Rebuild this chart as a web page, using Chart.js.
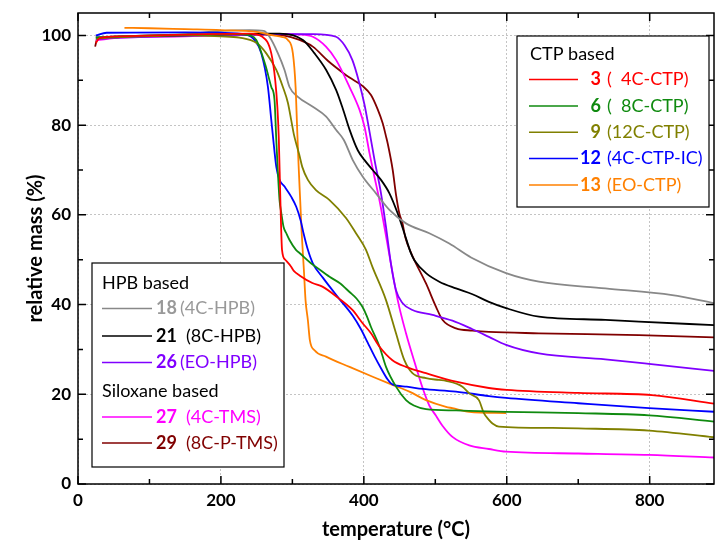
<!DOCTYPE html>
<html>
<head>
<meta charset="utf-8">
<script src="https://cdn.jsdelivr.net/npm/chart.js@4/dist/chart.umd.min.js"></script>
<style>
html,body{margin:0;padding:0;background:#fff;}
#wrap{width:716px;height:542px;}
</style>
</head>
<body>
<div id="wrap"><canvas id="c" width="716" height="542"></canvas></div>
<script>
// ---- data (temperature °C / relative mass %) ----
const t3  = [25,30,60,150,240,258,270.5,276,279,281,283.2,285.5,290,298,302,310,328,342,364,384,398,410,422,440,459,487,529,575,600,700,803,891];
const m3  = [98.3,99.4,99.8,100.2,100.4,99.7,96,90,84,77,63.3,52.2,50,48.5,47.5,46.5,44.8,44,41.5,38.8,35.9,33.6,30.6,27.6,26.1,24.7,22.8,21.4,21,20.3,19.8,17.9];

const t6  = [25,60,150,220,240,249.5,262,270.5,275,277.5,282,284.5,287.7,291.5,296,305,310,326,333,352,366,380,390,398,404,410,422,431,445,459,470,487,529,599,700,799,891];
const m6  = [99.5,99.8,100.2,100.3,100,99,93.5,88.5,85.6,76.7,63.3,60.4,57.3,55.9,54.4,52.2,51.5,49.2,48.4,46.2,44.8,42.8,41.3,39.5,37.5,35,30.6,26.1,21.7,18.7,17.5,16.7,16.4,16.1,15.8,15.3,13.9];

const t9  = [25,60,150,200,226,250,263.5,277.5,286.7,293.7,298.5,302,306,309.5,313.8,321.7,333,352,375,389,403,412,431,445,456.7,468,487,505,515,538,547.5,561,568,575,580,589,664,700,799,891];
const m9  = [99.3,99.6,100,99.8,99.5,98.3,96,92.3,88.5,85,81,78,75.5,73.5,70.7,67.8,65.5,63.3,59.3,55.9,52.2,48.4,41,33.6,27.6,24.7,23.6,23.2,23,21.7,20.2,18.7,15.8,14.3,13.5,12.8,12.5,12.4,11.9,10.4];

const t12 = [25,40,150,200,235,247,256.5,265.8,270.5,272.8,277.5,282,289,298.5,305.4,311.5,315.6,321.7,328.6,342.6,364.5,384.5,396,405.4,414.8,424,433.4,440,460,482,529,575,599,700,799,891];
const m12 = [100,100.6,100.7,100.6,100.2,99,96,88.5,81.1,77.5,70.7,67.8,66.3,64,61.8,58.8,55.9,52.2,49.2,46,41.5,37.5,34.5,31.5,28.5,25.8,23.3,22.2,21.7,21.2,20.6,19.6,19.2,18,16.9,16.1];

const t13 = [65,100,150,200,250,273,285,293.7,300.7,304.5,306.5,308.7,311,313,316,318.4,321.7,324.5,331,347,380,412.4,440,463.7,487,515,524,547.5,599];
const m13 = [101.7,101.6,101.4,101.2,100.8,100,99.7,99,96,88.5,80,71,63,56,48,41,36.5,32,29.8,28.4,26.1,23.9,22.1,20.6,18.7,17.2,16.9,16.1,15.8];

const t18 = [25,60,150,200,240,260,268,279.8,289,296,307.7,328.6,347.3,361.3,372,384.5,398.5,417,435.8,459,491.6,519.6,550,599,645,738,831.5,891];
const m18 = [99.6,99.8,100.3,101,101.2,101,99.7,96,92.3,88.5,86.3,84.1,81.9,78.9,76.7,72.2,68.5,64.8,61.1,58.1,55.9,53.6,50.5,47,45.1,43.6,42.1,40.3];

const t21 = [25,60,150,200,260,282,314.7,331,347.3,361.3,370.5,380,391.5,401,412.4,424,435.8,447.4,456.7,466,470.7,487,505.6,529,552,575,599,645,738,785,891];
const m21 = [99.6,99.8,100,100.2,100.4,100.4,99,96,92.3,87.8,83.7,79,74.4,72.2,70,67.8,64.8,60.3,55.9,51.4,49.9,47,45.1,43.6,42.3,40.6,39.2,37.3,36.6,36.2,35.4];

const t26 = [25,60,150,200,280,330,361,373,384,393,401,408,415,424,431,438,445,454.3,468,496,524,552,575,599,645,738,799,891];
const m26 = [99.2,99.5,99.9,100.1,100.3,100.3,99.7,97.8,94.5,89.8,84.5,78.5,72.2,64.8,57.3,49,43.2,40.3,38.8,37.7,36.4,34.5,32.8,31,29.1,27.8,26.8,25.2];

const t27 = [25,60,150,200,280,310,328.6,347,361.3,380,394,401,408,414.8,421.8,428.8,435.8,447.4,459,473,482,491.6,501,510,524,547.5,575,599,700,799,891];
const m27 = [98.9,99.5,99.8,100.1,100.3,100.2,99.7,97.5,94.5,88.5,83.4,79.6,73.7,68.5,63.3,57.3,51,41,33.6,26.1,21.5,17.5,15.2,13,10.5,8.6,7.8,7.2,6.8,6.5,5.9];

const t29 = [24,27,40,100,200,260,287,310,328.6,350,370.5,380,398.5,410,419.4,426.4,431,433.4,440.4,445,449.7,454,458,467,487,501,510,529,552,575,645,785,891];
const m29 = [97.5,99.3,99.6,99.8,100.1,100.2,100,99,97.5,94.3,91.7,90.6,88.7,86.7,83.5,80.4,77.5,75.9,70,64.5,60.3,58.2,55,51.2,44.7,39.5,36.6,34.7,34.2,33.9,33.6,33.2,32.7];

// ---- series definitions ----
const seriesNums   = ['3','6','9','12','13','18','21','26','27','29'];
const seriesNames  = ['(  4C-CTP)','(  8C-CTP)','(12C-CTP)','(4C-CTP-IC)','(EO-CTP)','(4C-HPB)','(8C-HPB)','(EO-HPB)','(4C-TMS)','(8C-P-TMS)'];
const seriesTemps  = [t3,t6,t9,t12,t13,t18,t21,t26,t27,t29];
const seriesMass   = [m3,m6,m9,m12,m13,m18,m21,m26,m27,m29];
const seriesColors = ['#ff0000','#0f8a0f','#808000','#0000ff','#ff8000','#888888','#000000','#8000ff','#ff00ff','#800000'];

const xMajor = [0,200,400,600,800];
const xMinor = [100,300,500,700];
const yMajor = [0,20,40,60,80,100];
const yMinor = [10,30,50,70,90];

const datasets = seriesNums.map((n,i)=>({
  label: n + ' ' + seriesNames[i],
  data: seriesTemps[i].map((t,j)=>({x:t, y:seriesMass[i][j]})),
  borderColor: seriesColors[i],
  backgroundColor: seriesColors[i],
  borderWidth: 1.8,
  pointRadius: 0,
  fill: false,
  cubicInterpolationMode: 'monotone'
}));

const FONT = 'Lato, "Open Sans", sans-serif';

const frameTicks = {
  id: 'frameTicks',
  afterDatasetsDraw(chart){
    const {ctx, chartArea:a, scales:{x,y}} = chart;
    ctx.save();
    ctx.strokeStyle = '#000';
    ctx.lineWidth = 1.5;
    ctx.strokeRect(a.left, a.top, a.right-a.left, a.bottom-a.top);
    ctx.beginPath();
    const tickX = (vals,len)=>vals.forEach(v=>{const p=x.getPixelForValue(v);
      ctx.moveTo(p,a.bottom); ctx.lineTo(p,a.bottom-len);
      ctx.moveTo(p,a.top); ctx.lineTo(p,a.top+len);});
    const tickY = (vals,len)=>vals.forEach(v=>{const p=y.getPixelForValue(v);
      ctx.moveTo(a.left,p); ctx.lineTo(a.left+len,p);
      ctx.moveTo(a.right,p); ctx.lineTo(a.right-len,p);});
    tickX(xMajor,8); tickX(xMinor,5);
    tickY(yMajor,8); tickY(yMinor,5);
    ctx.stroke();
    ctx.restore();
  }
};

function drawBox(ctx, l, t, r, b){
  ctx.fillStyle = '#fff';
  ctx.fillRect(l,t,r-l,b-t);
  ctx.strokeStyle = '#000';
  ctx.lineWidth = 1.2;
  ctx.strokeRect(l,t,r-l,b-t);
}

const legendPlugin = {
  id: 'legendBoxes',
  afterDraw(chart){
    const ctx = chart.ctx;
    ctx.save();
    ctx.textBaseline = 'middle';
    // CTP box
    drawBox(ctx, 517, 36, 709, 207);
    ctx.font = '18px ' + FONT;
    ctx.fillStyle = '#000';
    ctx.textAlign = 'left';
    ctx.fillText('CTP based', 530, 54);
    const ctpRows = [79.5,106,132.3,158.6,185];
    [0,1,2,3,4].forEach((i,k)=>{
      const yy = ctpRows[k];
      const col = seriesColors[i];
      ctx.strokeStyle = col; ctx.lineWidth = 1.5;
      ctx.beginPath(); ctx.moveTo(529,yy); ctx.lineTo(578,yy); ctx.stroke();
      ctx.fillStyle = col;
      ctx.font = 'bold 18px ' + FONT; ctx.textAlign='right';
      ctx.fillText(seriesNums[i], 601, yy);
      ctx.font = '18px ' + FONT; ctx.textAlign='left';
      ctx.fillText(seriesNames[i], 607, yy);
    });
    // HPB / Siloxane box
    drawBox(ctx, 92, 263, 284, 467);
    ctx.font = '18px ' + FONT; ctx.fillStyle='#000'; ctx.textAlign='left';
    ctx.fillText('HPB based', 102, 283);
    ctx.fillText('Siloxane based', 102, 391);
    const rows = [[5,308.5,180],[6,336,186],[7,362.5,180],[8,417,186],[9,443,186]];
    rows.forEach(([i,yy,tx])=>{
      const col = seriesColors[i];
      ctx.strokeStyle = col; ctx.lineWidth = 1.5;
      ctx.beginPath(); ctx.moveTo(102,yy); ctx.lineTo(152,yy); ctx.stroke();
      ctx.fillStyle = i===5 ? '#999999' : col;
      ctx.font = 'bold 18px ' + FONT; ctx.textAlign='left';
      ctx.fillText(seriesNums[i], 156, yy);
      ctx.font = '18px ' + FONT;
      ctx.fillText(seriesNames[i], tx, yy);
    });
    ctx.restore();
  }
};

new Chart(document.getElementById('c'), {
  type: 'line',
  data: { datasets },
  plugins: [frameTicks, legendPlugin],
  options: {
    responsive: false,
    animation: false,
    layout: { padding: { top: 13, right: 2, left: 0, bottom: 0 } },
    plugins: { legend: { display: false }, tooltip: { enabled: false } },
    scales: {
      x: {
        type: 'linear', min: 0, max: 890,
        afterFit: s => { s.height = 58; s.paddingLeft = 0; s.paddingRight = 0; },
        afterBuildTicks: s => { s.ticks = xMajor.map(v=>({value:v})); },
        ticks: { color: '#000', font: { family: FONT, size: 17, weight: 'bold' }, padding: 6, maxRotation: 0 },
        grid: { color: '#c4c4c4', lineWidth: 1, drawTicks: false },
        border: { display: false, dash: [2,2] },
        title: { display: true, text: 'temperature (°C)', color: '#000', font: { family: FONT, size: 20, weight: 'bold' }, padding: { top: 0, bottom: 0 } }
      },
      y: {
        type: 'linear', min: 0, max: 105,
        afterFit: s => { s.width = 78; s.paddingTop = 0; s.paddingBottom = 0; },
        afterBuildTicks: s => { s.ticks = yMajor.map(v=>({value:v})); },
        ticks: { color: '#000', font: { family: FONT, size: 17, weight: 'bold' }, padding: 7 },
        grid: { color: '#c4c4c4', lineWidth: 1, drawTicks: false },
        border: { display: false, dash: [2,2] },
        title: { display: true, text: 'relative mass (%)', color: '#000', font: { family: FONT, size: 20, weight: 'bold' }, padding: { top: 24, bottom: 0 } }
      }
    }
  }
});
</script>
</body>
</html>
